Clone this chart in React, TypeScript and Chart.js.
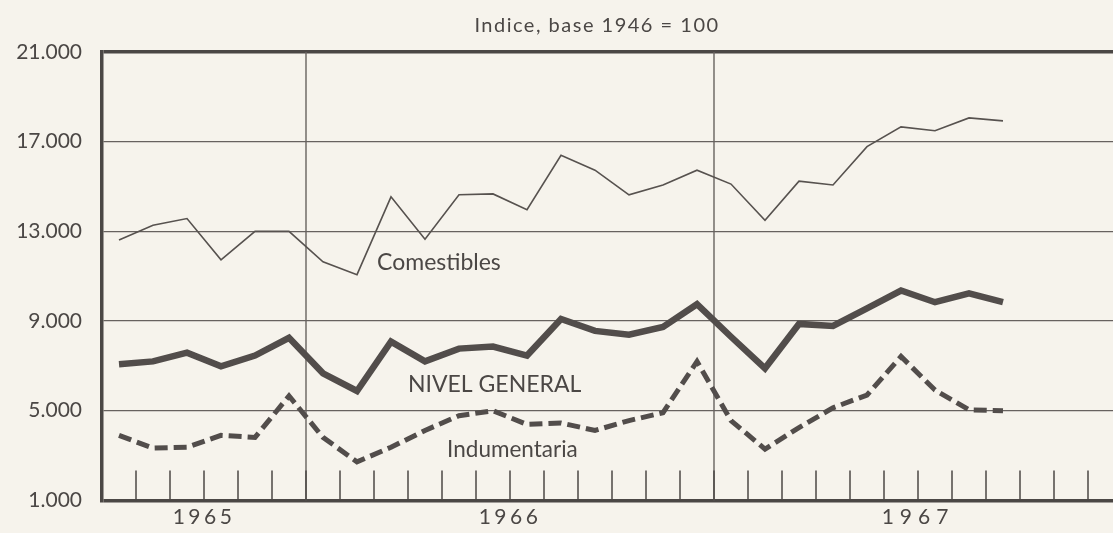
import React, { useEffect, useRef } from "react";
import { Chart, registerables } from "chart.js";

Chart.register(...registerables);

const months: string[] = [
  "Jul 1965", "Ago 1965", "Sep 1965", "Oct 1965", "Nov 1965", "Dic 1965",
  "Ene 1966", "Feb 1966", "Mar 1966", "Abr 1966", "May 1966", "Jun 1966",
  "Jul 1966", "Ago 1966", "Sep 1966", "Oct 1966", "Nov 1966", "Dic 1966",
  "Ene 1967", "Feb 1967", "Mar 1967", "Abr 1967", "May 1967", "Jun 1967",
  "Jul 1967", "Ago 1967", "Sep 1967",
];

const comestibles: number[] = [
  12610, 13270, 13570, 11730, 13000, 13000,
  11640, 11070, 14540, 12650, 14630, 14670,
  13970, 16390, 15730, 14630, 15070, 15730,
  15110, 13490, 15240, 15070, 16780, 17660,
  17490, 18060, 17930,
];

const nivelGeneral: number[] = [
  7070, 7200, 7590, 6980, 7460, 8250,
  6670, 5880, 8080, 7200, 7770, 7860,
  7460, 9090, 8560, 8390, 8740, 9750,
  8300, 6890, 8870, 8780, 9570, 10360,
  9840, 10230, 9840,
];

const indumentaria: number[] = [
  3900, 3330, 3370, 3900, 3810, 5660,
  3810, 2720, 3370, 4120, 4780, 5000,
  4390, 4450, 4120, 4560, 4910, 7200,
  4560, 3290, 4250, 5130, 5700, 7420,
  5920, 5040, 5000,
];

const yTicks: number[] = [1000, 5000, 9000, 13000, 17000, 21000];
const years: { label: string; from: number; to: number; spacing: string }[] = [
  { label: "1965", from: 0, to: 6, spacing: "3.5px" },
  { label: "1966", from: 6, to: 18, spacing: "3.5px" },
  { label: "1967", from: 18, to: 30, spacing: "6px" },
];
const seriesLabels: { text: string; x: number; y: number; size: number }[] = [
  { text: "Comestibles", x: 8.09, y: 11290, size: 23 },
  { text: "NIVEL GENERAL", x: 9.0, y: 5840, size: 23 },
  { text: "Indumentaria", x: 10.15, y: 2930, size: 22.5 },
];
const titleText = "Indice, base 1946 = 100";

const BG = "#f6f3ec";
const INK = "#4b4745";
const GRID = "#67625f";
const FONT = "Lato, 'Noto Sans', sans-serif";

const fmt = (v: number) => String(v).replace(/\B(?=(\d{3})+(?!\d))/g, ".");

const decorPlugin = {
  id: "decor",
  beforeDraw(chart: any) {
    const { ctx, width, height } = chart;
    ctx.save();
    ctx.fillStyle = BG;
    ctx.fillRect(0, 0, width, height);
    ctx.restore();
  },
  beforeDatasetsDraw(chart: any) {
    const { ctx, chartArea } = chart;
    const xs = chart.scales.x;
    ctx.save();
    ctx.strokeStyle = GRID;
    ctx.lineWidth = 1.4;
    [6, 18].forEach((m) => {
      const px = xs.getPixelForValue(m);
      ctx.beginPath();
      ctx.moveTo(px, chartArea.top);
      ctx.lineTo(px, chartArea.bottom);
      ctx.stroke();
    });
    ctx.strokeStyle = INK;
    ctx.lineWidth = 1.5;
    for (let m = 1; m < 30; m++) {
      const px = xs.getPixelForValue(m);
      if (px > chartArea.right) break;
      ctx.beginPath();
      ctx.moveTo(px, chartArea.bottom);
      ctx.lineTo(px, chartArea.bottom - 30);
      ctx.stroke();
    }
    ctx.restore();
  },
  afterDraw(chart: any) {
    const { ctx, chartArea } = chart;
    const xs = chart.scales.x;
    const ys = chart.scales.y;
    ctx.save();
    ctx.fillStyle = INK;
    ctx.textBaseline = "alphabetic";
    // title
    ctx.font = `20px ${FONT}`;
    ctx.textAlign = "center";
    (ctx as any).letterSpacing = "1.5px";
    ctx.fillText(titleText, 597, 32);
    // year labels
    ctx.font = `21px ${FONT}`;
    years.forEach((y) => {
      (ctx as any).letterSpacing = y.spacing;
      const px = xs.getPixelForValue((y.from + y.to) / 2);
      ctx.fillText(y.label, px, chartArea.bottom + 24);
    });
    (ctx as any).letterSpacing = "0px";
    // series labels
    ctx.textAlign = "left";
    seriesLabels.forEach((s) => {
      ctx.font = `${s.size}px ${FONT}`;
      ctx.fillText(s.text, xs.getPixelForValue(s.x), ys.getPixelForValue(s.y));
    });
    ctx.restore();
  },
};

export default function App() {
  const canvasRef = useRef<HTMLCanvasElement | null>(null);

  useEffect(() => {
    document.body.style.margin = "0";
    document.body.style.background = BG;
    const canvas = canvasRef.current;
    if (!canvas) return;
    const toPts = (arr: number[]) => arr.map((v, i) => ({ x: i + 0.5, y: v }));
    const chart = new Chart(canvas, {
      type: "line",
      data: {
        labels: months,
        datasets: [
          {
            label: "Comestibles",
            data: toPts(comestibles),
            borderColor: "#57524f",
            borderWidth: 1.6,
            pointRadius: 0,
            tension: 0,
            fill: false,
          },
          {
            label: "NIVEL GENERAL",
            data: toPts(nivelGeneral),
            borderColor: "#524d4b",
            borderWidth: 6.5,
            borderJoinStyle: "miter",
            pointRadius: 0,
            tension: 0,
            fill: false,
          },
          {
            label: "Indumentaria",
            data: toPts(indumentaria),
            borderColor: "#524d4b",
            borderWidth: 5,
            borderDash: [13, 6],
            borderCapStyle: "butt",
            pointRadius: 0,
            tension: 0,
            fill: false,
          },
        ],
      },
      options: {
        responsive: false,
        animation: false,
        layout: { padding: { top: 52, bottom: 26, left: 0, right: 0 } },
        plugins: {
          legend: { display: false },
          tooltip: { enabled: false },
          title: { display: false },
        },
        scales: {
          x: {
            type: "linear",
            display: false,
            min: 0,
            max: (1113 - 102) / 34,
          },
          y: {
            min: 1000,
            max: 21000,
            afterBuildTicks: (scale: any) => {
              scale.ticks = yTicks.map((v) => ({ value: v }));
            },
            afterFit: (scale: any) => {
              scale.width = 102;
            },
            border: { display: true, color: INK, width: 3.5 },
            grid: {
              drawTicks: false,
              color: (c: any) => (c.tick && (c.tick.value === 21000 || c.tick.value === 1000) ? INK : GRID),
              lineWidth: (c: any) => (c.tick && (c.tick.value === 21000 || c.tick.value === 1000) ? 3.5 : 1.3),
            },
            ticks: {
              padding: 20,
              color: INK,
              font: { family: FONT, size: 21 },
              callback: (v: any) => fmt(Number(v)),
            },
          },
        },
      },
      plugins: [decorPlugin],
    } as any);
    return () => chart.destroy();
  }, []);

  return (
    <div style={{ position: "fixed", left: 0, top: 0, width: 1113, height: 533, background: BG }}>
      <canvas ref={canvasRef} width={1113} height={533} style={{ display: "block" }} />
    </div>
  );
}
